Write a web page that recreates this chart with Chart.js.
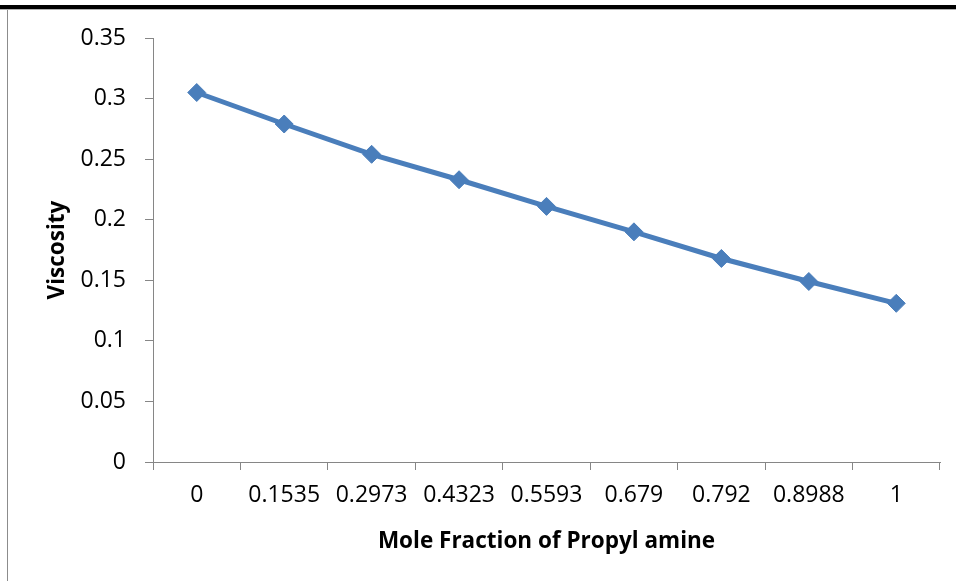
<!DOCTYPE html>
<html>
<head>
<meta charset="utf-8">
<script src="https://cdn.jsdelivr.net/npm/chart.js@4"></script>
<style>
  html, body { margin: 0; padding: 0; background: #fff; }
  #wrap { position: relative; width: 956px; height: 581px; overflow: hidden; }
  #frameTop { position: absolute; left: 0; top: 5px; width: 956px; height: 4px; background: #000; border-bottom: 1px solid #b0b0b0; }
  #frameLeft { position: absolute; left: 7px; top: 10px; width: 1px; height: 571px; background: #8c8c8c; }
</style>
</head>
<body>
<div id="wrap">
  <canvas id="viscChart" width="956" height="581"></canvas>
  <div id="frameTop"></div>
  <div id="frameLeft"></div>
</div>
<script>
// Mole fraction of propyl amine (category labels)
const moleFractions = ["0", "0.1535", "0.2973", "0.4323", "0.5593", "0.679", "0.792", "0.8988", "1"];
// Viscosity
const viscosity = [0.305, 0.279, 0.254, 0.233, 0.211, 0.190, 0.168, 0.149, 0.131];

const xTitle = "Mole Fraction of Propyl amine";
const yTitle = "Viscosity";

Chart.defaults.font.family = "'Open Sans', sans-serif";
Chart.defaults.color = "#000";

const axisGrey = "#868686";

const ctx = document.getElementById("viscChart").getContext("2d");
new Chart(ctx, {
  type: "line",
  data: {
    labels: moleFractions,
    datasets: [{
      data: viscosity,
      borderColor: "#4a7ebb",
      backgroundColor: "#4a7ebb",
      borderWidth: 5,
      pointStyle: "rectRot",
      pointRadius: 9,
      pointBorderWidth: 1,
      tension: 0,
      fill: false
    }]
  },
  options: {
    responsive: false,
    animation: false,
    layout: { padding: { left: 0, top: 38, right: 16, bottom: 0 } },
    plugins: {
      legend: { display: false },
      title: { display: false },
      tooltip: { enabled: false }
    },
    scales: {
      x: {
        type: "category",
        offset: true,
        grid: { offset: true, drawOnChartArea: false, drawTicks: true, tickLength: 8, color: axisGrey },
        border: { display: true, color: axisGrey, width: 1 },
        ticks: { font: { size: 23 }, padding: 12, maxRotation: 0, autoSkip: false },
        title: { display: true, text: xTitle, font: { size: 22.5, weight: "bold" }, padding: { top: 0, bottom: 26 } },
        afterFit: (s) => { s.height = 119; }
      },
      y: {
        min: 0,
        max: 0.35,
        ticks: {
          stepSize: 0.05,
          font: { size: 23 },
          padding: 19,
          callback: (v) => String(+v.toFixed(2))
        },
        grid: { drawOnChartArea: false, drawTicks: true, tickLength: 8, color: axisGrey },
        border: { display: true, color: axisGrey, width: 1 },
        title: { display: true, text: yTitle, font: { size: 22.5, weight: "bold" }, padding: { top: 44, bottom: 0 } },
        afterFit: (s) => { s.width = 153; }
      }
    }
  }
});
</script>
</body>
</html>
